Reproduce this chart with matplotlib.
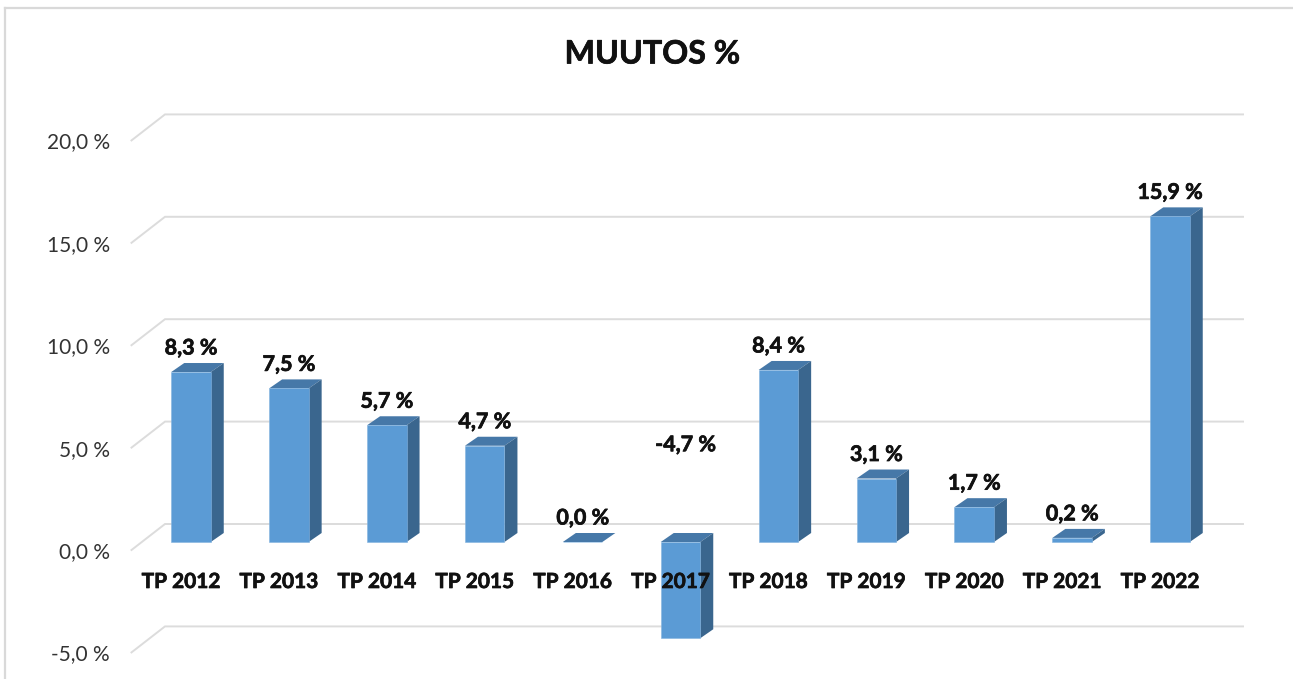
import matplotlib
matplotlib.use("Agg")
import matplotlib.pyplot as plt
import matplotlib.patheffects as pe
from matplotlib.lines import Line2D

plt.rcParams["font.family"] = ["Lato", "DejaVu Sans"]

categories = ["TP 2012", "TP 2013", "TP 2014", "TP 2015", "TP 2016", "TP 2017",
              "TP 2018", "TP 2019", "TP 2020", "TP 2021", "TP 2022"]
values = [8.3, 7.5, 5.7, 4.7, 0.0, -4.7, 8.4, 3.1, 1.7, 0.2, 15.9]
ticks = [20, 15, 10, 5, 0, -5]

W, H = 1293, 679
fig = plt.figure(figsize=(W / 100, H / 100), dpi=100, facecolor="white")
ax = fig.add_axes([0, 0, 1, 1])

# one category = 97.9 px, one percent = 20.48 px
sx = 1 / 97.9
sy = 1 / 20.48
ax.set_xlim(-191.0 * sx, (W - 191.0) * sx)
ax.set_ylim(-(H - 542) * sy, 542 * sy)
ax.axis("off")

# thicker look for the bold labels
heavy = [pe.withStroke(linewidth=0.5, foreground="#111111")]

# outer frame of the chart, cut off at right and bottom
fig.add_artist(Line2D([5 / W, 5 / W], [0, 1 - 8 / H], color="#D9D9D9", lw=1.6))
fig.add_artist(Line2D([5 / W, 1], [1 - 8 / H, 1 - 8 / H], color="#D9D9D9", lw=1.6))

# gridlines: short slanted piece on the floor, then along the back wall
for t in ticks:
    ax.plot([-59.5 * sx, -26 * sx, 1052 * sx],
            [t - 8 * sy, t + 18 * sy, t + 18 * sy],
            color="#DCDCDC", lw=1.4, zorder=1, solid_joinstyle="miter")
    ax.text(-81 * sx, t - 10 * sy, f"{t:.1f} %".replace(".", ","),
            ha="right", va="center", fontsize=15, color="#333333", zorder=6)

# 3D look bars
bw = 39.5 * sx
dx = 13 * sx
dy = 9 * sy
ax.bar(range(len(values)), values, width=bw, color="#5B9BD5", edgecolor="#84B4E0",
       linewidth=0.4, zorder=4)
for i, v in enumerate(values):
    l = i - bw / 2
    r = i + bw / 2
    top = max(v, 0)
    low = min(v, 0)
    ax.fill([l, r, r + dx, l + dx], [top, top, top + dy, top + dy],
            color="#4678A8", lw=0, zorder=3)
    if v != 0:
        ax.fill([r, r + dx, r + dx, r], [low, low + dy, top + dy, top],
                color="#3A668E", lw=0, zorder=3)

    if v < 0:
        # Excel leaves the negative label above the axis
        lx, ly = i + 5 * sx, abs(v) + 1 * sy
    else:
        lx, ly = i, v + 24 * sy
    ax.text(lx, ly, f"{v:.1f} %".replace(".", ","), ha="center", va="center",
            fontsize=15.5, fontweight="bold", color="#111111", zorder=6,
            path_effects=heavy)
    ax.text(i - 10 * sx, -40 * sy, categories[i], ha="center", va="center",
            fontsize=15, fontweight="bold", color="#111111", zorder=6,
            path_effects=heavy)

fig.text(652.5 / W, 1 - 54 / H, "MUUTOS %", ha="center", va="center",
         fontsize=23.2, fontweight="bold", color="#111111", path_effects=heavy)

fig.savefig("out.png", dpi=100)
